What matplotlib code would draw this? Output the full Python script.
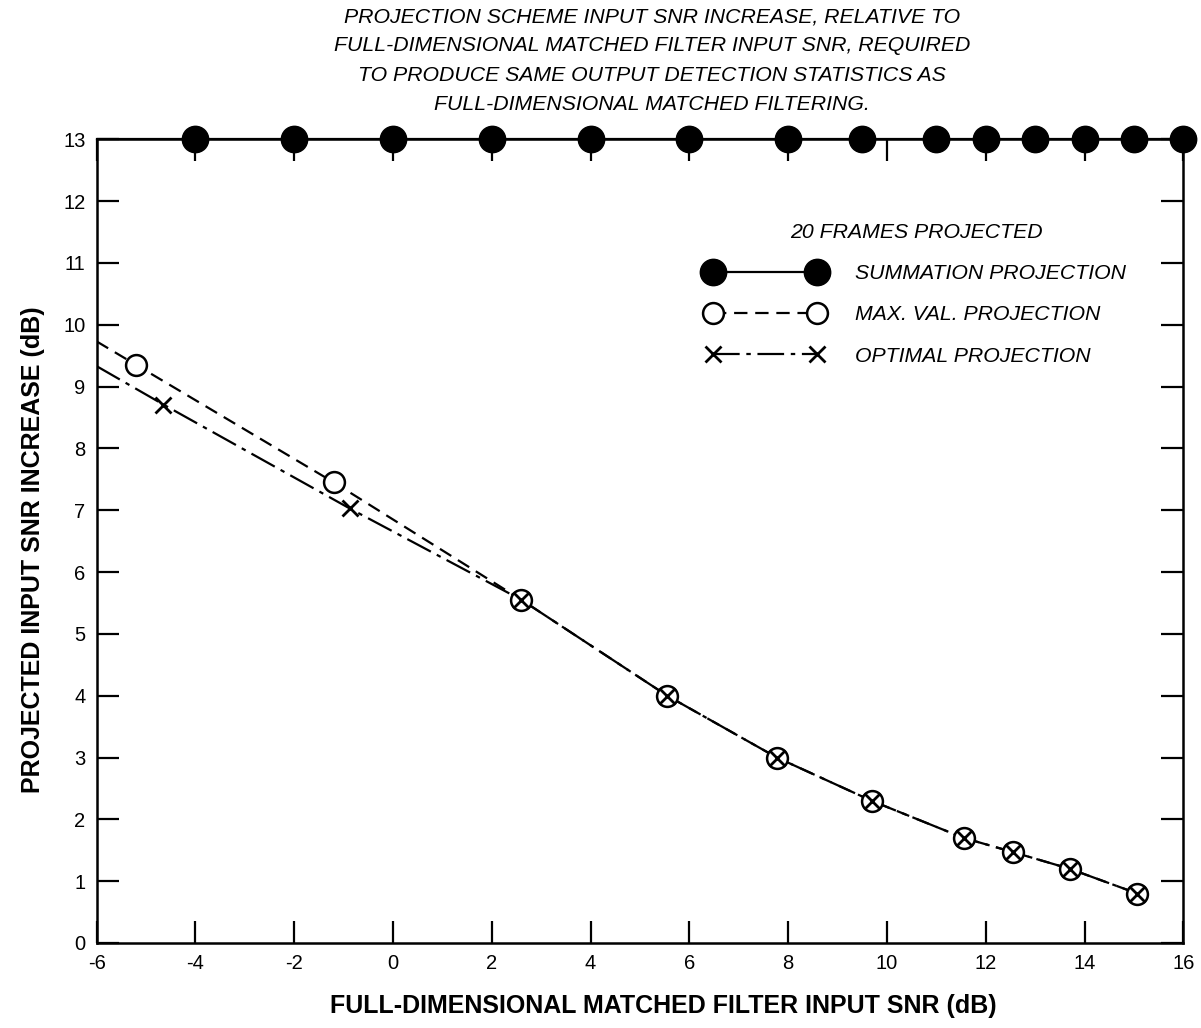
import matplotlib
matplotlib.use("Agg")
import matplotlib.pyplot as plt
from matplotlib.lines import Line2D

plt.rcParams["font.family"] = ["Liberation Sans", "DejaVu Sans"]
plt.rcParams["axes.unicode_minus"] = False

# summation projection (all at the top of the scale)
sum_x = [-4, -2, 0, 2, 4, 6, 8, 9.5, 11, 12, 13, 14, 15, 16]
sum_y = [13] * len(sum_x)

# max. val. projection
max_x = [-5.2, -1.2, 2.6, 5.55, 7.77, 9.69, 11.55, 12.55, 13.7, 15.07]
max_y = [9.35, 7.45, 5.55, 4.0, 3.0, 2.3, 1.7, 1.47, 1.2, 0.8]
max_line_start = (-6, 9.73)

# optimal projection
opt_x = [-4.65, -0.88, 2.6, 5.55, 7.77, 9.69, 11.55, 12.55, 13.7, 15.07]
opt_y = [8.71, 7.03, 5.55, 4.0, 3.0, 2.3, 1.7, 1.47, 1.2, 0.8]
opt_line_start = (-6, 9.33)

x_ticks = list(range(-6, 17, 2))
y_ticks = list(range(0, 14))

title = ("PROJECTION SCHEME INPUT SNR INCREASE, RELATIVE TO\n"
         "FULL-DIMENSIONAL MATCHED FILTER INPUT SNR, REQUIRED\n"
         "TO PRODUCE SAME OUTPUT DETECTION STATISTICS AS\n"
         "FULL-DIMENSIONAL MATCHED FILTERING.")

fig = plt.figure(figsize=(12.01, 10.28), dpi=100)
ax = fig.add_axes([0.0805, 0.0827, 0.9048, 0.7818])

lw = 1.6
max_dash = (6, 3.5)
opt_dash = (12, 3, 2, 3)

ax.plot([-6] + sum_x, [13] + sum_y, "-", color="black", lw=lw, marker="o",
        markevery=list(range(1, len(sum_x) + 1)), ms=19, mfc="black",
        mec="black", clip_on=False, zorder=5)

ax.plot([max_line_start[0]] + max_x, [max_line_start[1]] + max_y, color="black",
        lw=lw, dashes=max_dash, zorder=3)
ax.plot(max_x, max_y, "o", ms=15, mfc="white", mec="black", mew=1.8, zorder=4)

ax.plot([opt_line_start[0]] + opt_x, [opt_line_start[1]] + opt_y, color="black",
        lw=lw, dashes=opt_dash, zorder=3)
ax.plot(opt_x, opt_y, "x", ms=11, mec="black", mew=2, zorder=6)

ax.set_xlim(-6, 16)
ax.set_ylim(0, 13)
ax.set_xticks(x_ticks)
ax.set_yticks(y_ticks)
ax.tick_params(direction="in", length=16, width=1.6, top=True, right=True,
               labelsize=14.5, pad=8)
for s in ax.spines.values():
    s.set_linewidth(1.8)

ax.set_xlabel("FULL-DIMENSIONAL MATCHED FILTER INPUT SNR (dB)",
              fontsize=18, fontweight="bold")
ax.set_ylabel("PROJECTED INPUT SNR INCREASE (dB)",
              fontsize=18, fontweight="bold")
ax.xaxis.set_label_coords(0.521, -0.063)
ax.yaxis.set_label_coords(-0.048, 0.489)

fig.text(0.543, 0.993, title, ha="center", va="top", fontsize=15.3,
         style="italic", linespacing=1.68)

# legend
handles = [
    Line2D([], [], color="black", lw=lw, marker="o", ms=19, mfc="black"),
    Line2D([], [], color="black", lw=lw, dashes=max_dash, marker="o", ms=15,
           mfc="white", mew=1.8),
    Line2D([], [], color="black", lw=lw, dashes=opt_dash, marker="x",
           ms=11, mew=2),
]
labels = ["SUMMATION PROJECTION", "MAX. VAL. PROJECTION", "OPTIMAL PROJECTION"]
leg = ax.legend(handles, labels, loc="upper left", bbox_to_anchor=(0.5434, 0.92),
                frameon=False, numpoints=2, handlelength=5.5, handletextpad=1.52,
                labelspacing=1.05, title="20 FRAMES PROJECTED",
                prop={"size": 15.3, "style": "italic"})
leg.get_title().set_fontsize(15.3)
leg.get_title().set_style("italic")

fig.savefig("out.png", dpi=100)
